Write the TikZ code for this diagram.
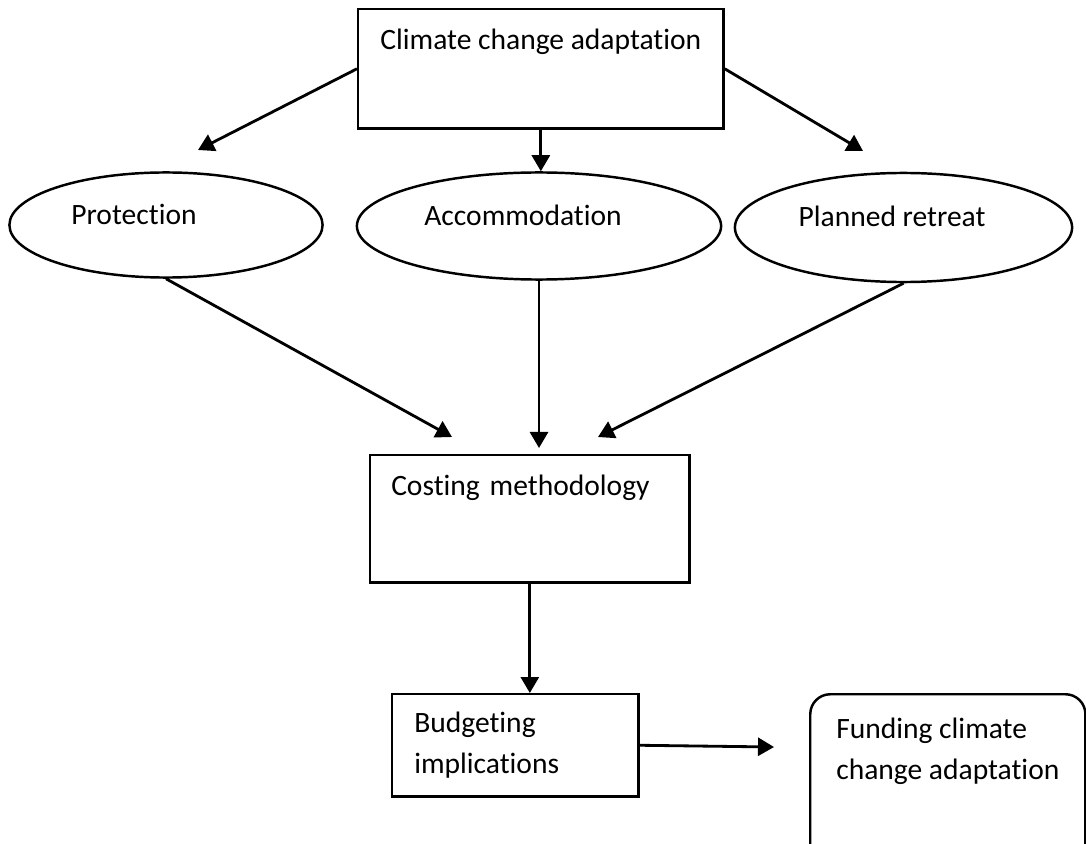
\documentclass[tikz,border=0pt]{standalone}
\usepackage{fontspec}
\setmainfont{Carlito}[Ligatures=NoCommon]
\usetikzlibrary{shapes,arrows.meta}
\tikzstyle{box}   = [rectangle, draw=black, line width=0.7pt, inner sep=0pt]
\tikzstyle{oval}  = [ellipse, draw=black, line width=0.7pt, inner sep=0pt]
\tikzstyle{arrow} = [line width=0.8pt,-{Triangle[length=1.6mm,width=1.8mm]}]

\begin{document}
\begin{tikzpicture}[x=0.01cm, y=-0.01cm, font=\fontsize{8.4}{11.6}\selectfont]
	\useasboundingbox (0,0) rectangle (1086,843);

	% top box
	\node[box, anchor=north west, minimum width=3.65cm, text height=0.40cm, text depth=0.79cm] (adapt) at (357,8) {Climate change adaptation};

	% the three options
	\node[oval, minimum width=3.13cm, minimum height=1.05cm,
		label={[xshift=-0.32cm, yshift=0.11cm]center:Protection}] (prot) at (166,225) {};
	\node[oval, minimum width=3.64cm, minimum height=1.07cm,
		label={[xshift=-0.16cm, yshift=0.105cm]center:Accommodation}] (acc) at (539,226) {};
	\node[oval, minimum width=3.37cm, minimum height=1.09cm,
		label={[xshift=-0.115cm, yshift=0.115cm]center:Planned retreat}] (plan) at (903.5,227.5) {};

	% costing and budgeting
	\node[box, anchor=north west, text width=2.77cm, inner xsep=0.21cm, align=left, text height=0.40cm, text depth=0.87cm] (cost) at (369,454) {Costing methodology};
	\node[box, anchor=north west, text width=2.02cm, inner xsep=0.22cm, align=left, minimum height=1.02cm] (budget) at (391,693) {Budgeting\\implications};
	\node[box, rounded corners=0.2cm, anchor=north west, minimum width=2.75cm, align=left, text height=0.85cm, text depth=0.92cm] (fund) at (809,693) {Funding climate\\change adaptation};

	% free arrow ends
	\coordinate (pl) at (198,150);
	\coordinate (pr) at (863,151);
	\coordinate (c1) at (452,437);
	\coordinate (c2) at (539,448);
	\coordinate (c3) at (598,437);
	\coordinate (f) at (774,747);

	\draw[arrow] (adapt.west) -- (pl);
	\draw[arrow] (adapt.east) -- (pr);
	\draw[arrow] (adapt.south) -- (adapt.south |- acc.north);
	\draw[arrow] (prot.south) -- (c1);
	\draw[arrow] (acc.south) -- (c2);
	\draw[arrow] (plan.south) -- (c3);
	\draw[arrow] (cost.south) -- (cost.south |- budget.north);
	\draw[arrow] (budget.east) -- (f);
\end{tikzpicture}
\end{document}
